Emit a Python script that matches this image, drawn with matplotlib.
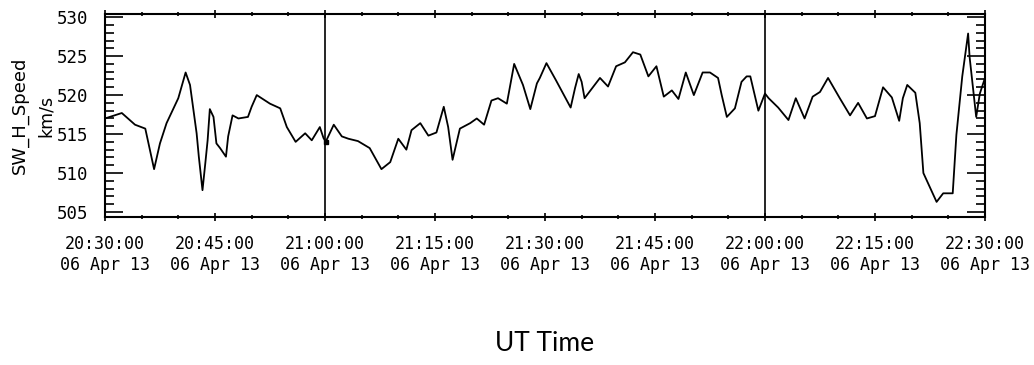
import matplotlib
matplotlib.use('agg')
import matplotlib.pyplot as plt
from matplotlib.ticker import MultipleLocator

# minutes since 20:30:00 UT, 06 Apr 2013
minutes = [0, 2.3, 4.1, 5.5, 6.7, 7.5, 8.4, 10.0, 11.0, 11.6, 12.5, 12.8, 13.3, 13.7,
           14.0, 14.3, 14.8, 15.2, 15.7, 16.5, 16.8, 17.4, 18.2, 19.5, 20.0, 20.7,
           22.5, 23.9, 24.8, 26.0, 27.3, 28.2, 29.3, 29.8, 30.1, 31.2, 32.3, 33.2,
           34.5, 36.1, 37.7, 38.9, 40.0, 41.1, 41.8, 43.0, 44.1, 45.2, 46.2, 46.8,
           47.4, 48.4, 49.8, 50.7, 51.7, 52.7, 53.6, 54.8, 55.8, 57.0, 58.0, 58.9,
           59.3, 60.2, 61.5, 63.5, 64.1, 64.6, 65.0, 65.4, 67.5, 68.6, 69.7, 70.9,
           72.0, 73.0, 74.1, 75.2, 76.2, 77.3, 78.2, 79.2, 80.3, 81.5, 82.5, 83.6,
           84.1, 84.8, 85.9, 86.8, 87.5, 88.0, 89.1, 90.0, 90.5, 91.8, 93.2, 94.2,
           95.4, 96.5, 97.5, 98.6, 100.2, 101.6, 102.7, 103.9, 105.0, 106.1, 107.3,
           108.3, 108.8, 109.4, 110.5, 111.1, 111.6, 113.4, 114.3, 115.6, 116.1,
           116.9, 117.7, 117.9, 118.8, 119.3, 120.0]
speed = [517.0, 517.7, 516.2, 515.7, 510.5, 513.8, 516.4, 519.6, 522.9, 521.3, 515.1,
         512.1, 507.8, 511.4, 514.2, 518.2, 517.2, 513.8, 513.2, 512.1, 514.7, 517.4,
         517.0, 517.2, 518.5, 520.0, 518.9, 518.3, 515.9, 514.0, 515.1, 514.2, 515.9,
         514.5, 514.0, 516.2, 514.7, 514.4, 514.1, 513.2, 510.5, 511.4, 514.4, 513.0,
         515.5, 516.4, 514.8, 515.2, 518.5, 515.9, 511.7, 515.7, 516.4, 517.0, 516.2,
         519.3, 519.6, 518.9, 524.0, 521.3, 518.2, 521.5, 522.2, 524.1, 521.9, 518.4,
         520.9, 522.7, 521.7, 519.6, 522.2, 521.1, 523.7, 524.2, 525.5, 525.2, 522.4,
         523.7, 519.8, 520.6, 519.5, 522.9, 520.0, 522.9, 522.9, 522.2, 520.0, 517.2,
         518.3, 521.7, 522.4, 522.4, 518.0, 520.2, 519.6, 518.4, 516.8, 519.6, 517.0,
         519.8, 520.4, 522.2, 519.6, 517.4, 519.0, 517.0, 517.3, 521.0, 519.7, 516.7,
         519.6, 521.3, 520.3, 516.4, 510.0, 506.3, 507.4, 507.4, 514.9, 522.4, 527.9,
         524.9, 517.2, 520.2, 522.2]

tick_minutes = [0, 15, 30, 45, 60, 75, 90, 105, 120]
tick_labels = ["20:30:00", "20:45:00", "21:00:00", "21:15:00", "21:30:00",
               "21:45:00", "22:00:00", "22:15:00", "22:30:00"]
date_label = "06 Apr 13"
marker_minutes = [30, 90]

fig = plt.figure(figsize=(10.34, 3.65), dpi=100)
ax = fig.add_axes([0.1015, 0.4063, 0.8511, 0.5553])

ax.plot(minutes, speed, color='black', lw=1.3)
for m in marker_minutes:
    ax.axvline(m, color='black', lw=1.2)
ax.plot([minutes[34]], [speed[34]], 's', color='black', ms=3)

ax.set_xlim(0, 120)
ax.set_ylim(504.4, 530.4)

ax.set_xticks(tick_minutes)
ax.set_xticklabels([t + "\n" + date_label for t in tick_labels],
                   family='DejaVu Sans Mono', fontsize=12, linespacing=1.25)
ax.xaxis.set_minor_locator(MultipleLocator(5))
ax.set_yticks([505, 510, 515, 520, 525, 530])
ax.yaxis.set_minor_locator(MultipleLocator(1))
for lbl in ax.get_yticklabels():
    lbl.set_family('DejaVu Sans Mono')
    lbl.set_fontsize(12.5)

ax.tick_params(axis='x', which='major', direction='inout', length=6, width=1.2,
               top=True, pad=10)
ax.tick_params(axis='x', which='minor', direction='inout', length=3.5, width=1.2,
               top=True)
ax.tick_params(axis='y', which='major', direction='in', length=13, width=1.2,
               right=True, pad=12)
ax.tick_params(axis='y', which='minor', direction='in', length=6.5, width=1.2,
               right=True)
for s in ax.spines.values():
    s.set_linewidth(1.5)

fig.text(0.019, 0.683, "SW_H_Speed", rotation=90, ha='center', va='center',
         fontsize=13, family='DejaVu Sans')
fig.text(0.044, 0.683, "km/s", rotation=90, ha='center', va='center',
         fontsize=12.5, family='DejaVu Sans')
fig.text(0.527, 0.058, "UT Time", ha='center', va='center', fontsize=19,
         family='Lato')

fig.savefig("out.png", dpi=100)
